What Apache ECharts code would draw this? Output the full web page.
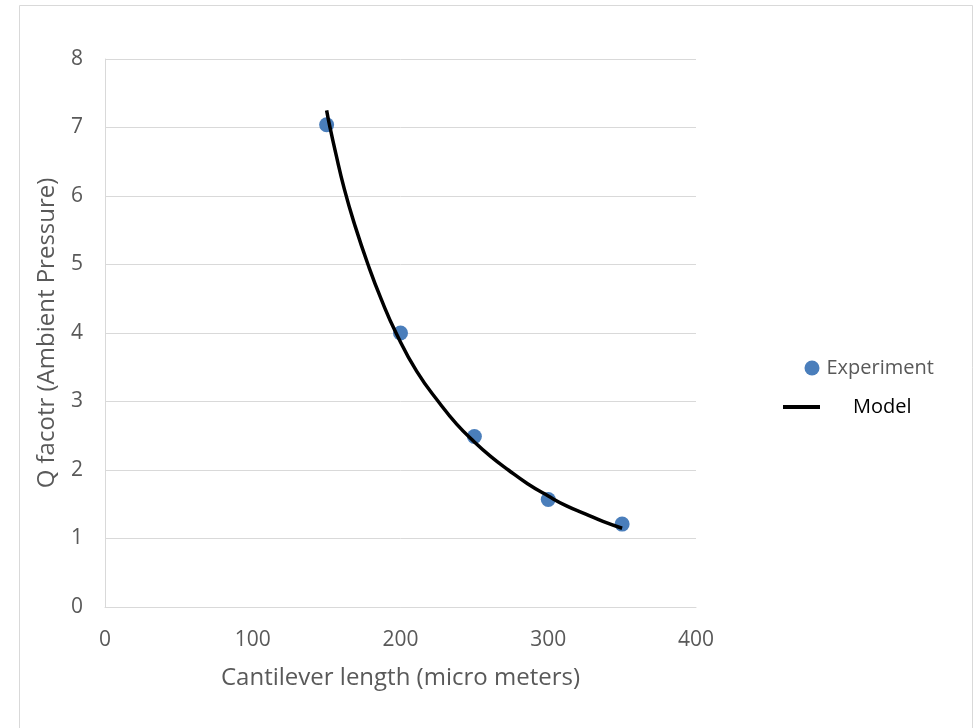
<!DOCTYPE html>
<html>
<head>
<meta charset="utf-8">
<script src="https://cdn.jsdelivr.net/npm/echarts@6/dist/echarts.min.js"></script>
<style>html,body{margin:0;padding:0;background:#fff}#c{width:975px;height:728px}</style>
</head>
<body>
<div id="c"></div>
<script>
const xTicks = [0, 100, 200, 300, 400];
const yTicks = [0, 1, 2, 3, 4, 5, 6, 7, 8];
const expX = [150, 200, 250, 300, 350];
const expY = [7.04, 4.0, 2.49, 1.57, 1.21];
const modelX = [150, 152, 156, 162, 169, 178, 187, 197, 211, 227, 238, 250, 261, 273, 286, 300, 312, 325, 337, 350];
const modelY = [7.25, 7.03, 6.64, 6.1, 5.58, 5.0, 4.49, 4.0, 3.44, 2.96, 2.67, 2.41, 2.2, 2.0, 1.8, 1.62, 1.48, 1.36, 1.25, 1.15];

const FONT = "'Open Sans', 'Liberation Sans', sans-serif";
const chart = echarts.init(document.getElementById('c'), null, {renderer: 'canvas'});
chart.setOption({
  backgroundColor: '#fff',
  animation: false,
  textStyle: {fontFamily: FONT},
  graphic: [{
    type: 'rect',
    shape: {x: 19.5, y: 5.5, width: 953, height: 740},
    style: {fill: 'none', stroke: '#d9d9d9', lineWidth: 1}
  }],
  grid: {left: 105, top: 59, right: 279, bottom: 121},
  legend: [{
    data: ['Experiment'], left: 804.5, top: 358, padding: 0, orient: 'vertical',
    itemWidth: 15, itemHeight: 15, itemGap: 0,
    textStyle: {fontSize: 20, color: '#595959', fontFamily: FONT, padding: [0, 0, 0, 2]}
  }, {
    data: [{name: 'Model', icon: 'rect'}], left: 783, top: 397, padding: 0,
    itemWidth: 37, itemHeight: 4,
    textStyle: {fontSize: 20, color: '#000', fontFamily: FONT, padding: [0, 0, 14, 28]}
  }],
  xAxis: {
    type: 'value', min: 0, max: 400, interval: 100,
    name: 'Cantilever length (micro meters)', nameLocation: 'middle', nameGap: 59,
    nameTextStyle: {fontSize: 24, color: '#595959', fontFamily: FONT},
    axisLine: {show: true, lineStyle: {color: '#d9d9d9', width: 1}},
    axisTick: {show: false},
    splitLine: {show: false},
    axisLabel: {fontSize: 21, color: '#595959', margin: 23, fontFamily: FONT,
      formatter: v => xTicks.includes(v) ? String(v) : ''}
  },
  yAxis: {
    type: 'value', min: 0, max: 8, interval: 1,
    name: 'Q facotr (Ambient Pressure)', nameLocation: 'middle', nameGap: 46,
    nameTextStyle: {fontSize: 24, color: '#595959', fontFamily: FONT},
    axisLine: {show: true, lineStyle: {color: '#d9d9d9', width: 1}},
    axisTick: {show: false},
    splitLine: {show: true, lineStyle: {color: '#d9d9d9', width: 1}},
    axisLabel: {fontSize: 21, color: '#595959', margin: 22, fontFamily: FONT,
      formatter: v => yTicks.includes(v) ? String(v) : ''}
  },
  series: [{
    name: 'Model', type: 'line', smooth: 0.5, showSymbol: false,
    data: modelX.map((x, i) => [x, modelY[i]]),
    lineStyle: {color: '#000', width: 3.5}, itemStyle: {color: '#000'}, z: 3
  }, {
    name: 'Experiment', type: 'scatter', symbol: 'circle', symbolSize: 15,
    data: expX.map((x, i) => [x, expY[i]]),
    itemStyle: {color: '#4a7ebb', opacity: 1}, z: 2
  }]
});
</script>
</body>
</html>
